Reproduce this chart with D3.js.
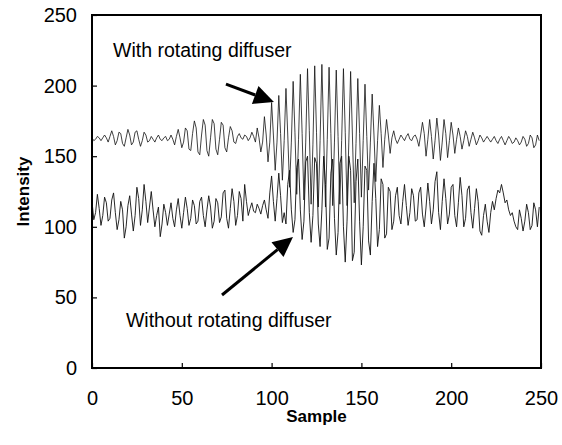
<!DOCTYPE html>
<html>
<head>
<meta charset="utf-8">
<script src="https://cdn.jsdelivr.net/npm/d3@7"></script>
<style>
body { margin: 0; background: #fff; }
text { font-family: "Liberation Sans", Arial, sans-serif; }
</style>
</head>
<body>
<svg id="chart"></svg>
<script>
const width = 562;
const height = 445;
const margin = {top: 15, right: 21, bottom: 77, left: 92};

// intensity with rotating diffuser, samples 0..249
const with_diffuser = [
163,161,162,164,163,161,163,165,163,160,
164,168,164,158,161,167,166,159,157,163,169,165,158,160,167,168,162,157,161,167,165,160,
161,164,162,160,163,165,162,161,163,164,161,162,165,
162,158,164,169,163,156,160,170,168,155,154,
166,175,170,153,151,165,176,172,154,150,163,176,173,155,151,162,174,172,156,153,163,171,168,
160,159,164,166,163,162,165,164,161,163,167,164,
160,170,163,153,160,178,165,146,160,
188,165,140,160,193,166,133,161,198,165,128,160,203,167,123,162,208,166,119,160,
212,168,116,158,214,167,114,161,215,165,114,162,213,166,115,160,211,164,116,161,
212,167,115,160,210,165,117,159,205,166,121,161,201,164,126,160,194,165,132,161,
186,166,142,162,176,165,152,163,168,
162,159,162,165,163,161,164,166,162,161,164,165,162,
157,165,174,166,150,162,176,164,148,161,177,165,147,160,176,166,149,161,174,165,152,162,
170,164,155,161,168,164,157,162,167,163,158,161,165,163,160,162,164,162,160,
162,164,161,159,162,164,161,158,161,164,162,159,160,163,161,158,160,164,162,157,159,165,163,156,158,165,161
];

// intensity without rotating diffuser, samples 0..249
const without_diffuser = [
118,105,110,123,113,101,108,121,117,104,106,
119,124,110,98,105,118,112,92,100,115,122,
109,97,108,128,120,101,112,130,118,103,114,125,
112,100,108,114,93,102,116,110,101,109,117,106,100,112,
120,108,99,110,121,113,101,106,119,115,102,104,118,121,108,100,112,122,114,99,104,120,117,103,
107,124,126,106,99,113,127,118,101,108,125,120,104,130,118,
108,113,117,111,110,116,113,109,115,119,112,
106,124,136,118,104,120,138,122,103,110,102,130,140,112,96,
105,142,148,112,91,104,146,150,110,89,108,149,145,102,86,112,150,130,84,92,
138,148,106,80,96,145,150,100,75,104,150,140,76,82,132,148,104,73,100,143,
140,90,80,118,145,120,86,98,134,130,92,95,128,
125,98,104,122,128,108,102,118,130,115,101,110,127,122,104,105,124,128,109,100,114,131,118,102,112,
132,139,110,98,118,134,120,102,109,128,130,108,100,117,135,122,100,106,126,129,110,99,113,127,
118,97,94,108,116,104,96,110,
118,112,120,126,124,130,
124,117,119,112,108,110,104,100,98,
112,106,97,104,116,110,98,101,117,112,100,114
];

const x_ticks = [0, 50, 100, 150, 200, 250];
const y_ticks = [0, 50, 100, 150, 200, 250];

// annotation anchors in data units: [sample, intensity]
const label_with = {text: "With rotating diffuser", at: [11.7, 220.4], from: [74.6, 201], to: [101.3, 188.4]};
const label_without = {text: "Without rotating diffuser", at: [18.9, 29], from: [72.4, 51.7], to: [111.9, 92.8]};

const svg = d3.select("#chart")
    .attr("width", width)
    .attr("height", height);

const x = d3.scaleLinear().domain([0, 250]).range([margin.left, width - margin.right]);
const y = d3.scaleLinear().domain([0, 250]).range([height - margin.bottom, margin.top]);

const line = d3.line()
    .x((d, i) => x(i))
    .y(d => y(d));

svg.append("path")
    .datum(with_diffuser)
    .attr("fill", "none")
    .attr("stroke", "#111")
    .attr("stroke-width", 0.8)
    .attr("d", line);

svg.append("path")
    .datum(without_diffuser)
    .attr("fill", "none")
    .attr("stroke", "#111")
    .attr("stroke-width", 0.9)
    .attr("d", line);

// axes, ticks point inward
const xAxis = svg.append("g")
    .attr("transform", `translate(0,${y(0)})`)
    .call(d3.axisBottom(x).tickValues(x_ticks).tickSize(-5).tickPadding(22.8));
const yAxis = svg.append("g")
    .attr("transform", `translate(${x(0)},0)`)
    .call(d3.axisLeft(y).tickValues(y_ticks).tickSize(-5).tickPadding(15));

[xAxis, yAxis].forEach(g => {
    g.select(".domain").remove();
    g.selectAll(".tick line").attr("stroke", "#000").attr("stroke-width", 1.2);
    g.selectAll(".tick text")
        .attr("font-size", 20)
        .attr("fill", "#000")
        .style("font-family", "'Liberation Sans', Arial, sans-serif");
});

svg.append("rect")
    .attr("x", x(0))
    .attr("y", y(250))
    .attr("width", x(250) - x(0))
    .attr("height", y(0) - y(250))
    .attr("fill", "none")
    .attr("stroke", "#000")
    .attr("stroke-width", 2);

svg.append("text")
    .attr("transform", `translate(29,${(y(0) + y(250)) / 2}) rotate(-90)`)
    .attr("text-anchor", "middle")
    .attr("font-size", 17)
    .attr("font-weight", "bold")
    .text("Intensity");

svg.append("text")
    .attr("x", (x(0) + x(250)) / 2)
    .attr("y", 422)
    .attr("text-anchor", "middle")
    .attr("font-size", 17)
    .attr("font-weight", "bold")
    .text("Sample");

function arrow(a) {
    svg.append("text")
        .attr("x", x(a.at[0]))
        .attr("y", y(a.at[1]))
        .attr("font-size", 19.5)
        .text(a.text);

    const x0 = x(a.from[0]), y0 = y(a.from[1]);
    const x1 = x(a.to[0]), y1 = y(a.to[1]);
    const ang = Math.atan2(y1 - y0, x1 - x0);
    const head = 20, half = 9.5;
    const bx = x1 - head * Math.cos(ang), by = y1 - head * Math.sin(ang);

    svg.append("line")
        .attr("x1", x0).attr("y1", y0)
        .attr("x2", bx).attr("y2", by)
        .attr("stroke", "#000")
        .attr("stroke-width", 3);

    svg.append("polygon")
        .attr("points", [
            [x1, y1],
            [bx + half * Math.sin(ang), by - half * Math.cos(ang)],
            [bx - half * Math.sin(ang), by + half * Math.cos(ang)]
        ].map(p => p.join(",")).join(" "))
        .attr("fill", "#000");
}

arrow(label_with);
arrow(label_without);
</script>
</body>
</html>
